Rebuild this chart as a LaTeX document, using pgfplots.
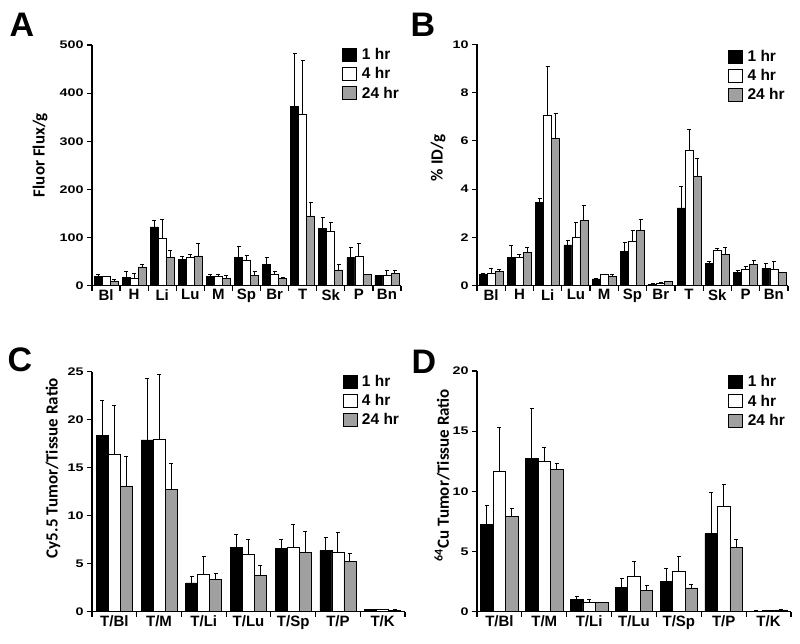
\documentclass[border=0pt]{standalone}
\usepackage{pgfplots}
\pgfplotsset{compat=1.18}
\usepackage{pgfplotstable}
\usepackage{fontspec}
\setmainfont{Liberation Sans}
\newfontfamily\calfont{Carlito}
\newfontfamily\tickfont[FakeStretch=1.3]{Liberation Sans}

\definecolor{barg}{RGB}{160,160,160}

% columns: x, 1 hr, err, 4 hr, err, 24 hr, err (err = upper bar length)
\pgfplotstableread{
x a ae b be c ce
0 20 4 20 0.01 10 3
1 18 11 15 11 39 5
2 122 13 98 40 59 14
3 55 6 59 6 62 25
4 20 3 19 4 15 6
5 58 23 53 9 21 9
6 44 14 24 6 15 2
7 373 110 357 110 145 27
8 119 23 112 20 33 12
9 58 22 61 26 23 1
10 21 1 21 10 25 6
}\tA
\pgfplotstableread{
x a ae b be c ce
0 0.48 0.02 0.51 0.21 0.58 0.10
1 1.16 0.52 1.16 0.15 1.38 0.21
2 3.44 0.16 7.04 2.03 6.10 1.04
3 1.69 0.17 2.00 0.62 2.70 0.61
4 0.28 0.01 0.47 0.01 0.40 0.07
5 1.41 0.37 1.84 0.46 2.30 0.45
6 0.07 0.01 0.11 0.01 0.17 0.01
7 3.22 0.87 5.60 0.85 4.53 0.73
8 0.93 0.09 1.45 0.10 1.31 0.26
9 0.54 0.11 0.68 0.11 0.88 0.16
10 0.72 0.22 0.69 0.32 0.55 0.01
}\tB
\pgfplotstableread{
x a ae b be c ce
0 18.4 3.65 16.4 5.1 13.1 3.05
1 17.9 6.4 17.95 6.8 12.7 2.75
2 3.0 0.7 3.9 1.9 3.37 0.63
3 6.67 1.33 5.94 1.56 3.75 1.08
4 6.6 0.9 6.74 2.32 6.18 2.22
5 6.35 1.39 6.18 2.05 5.2 0.84
6 0.2 0.05 0.2 0.05 0.15 0.05
}\tC
\pgfplotstableread{
x a ae b be c ce
0 7.26 1.6 11.63 3.67 7.95 0.64
1 12.74 4.16 12.47 1.16 11.83 0.47
2 1.0 0.25 0.75 0.3 0.75 0.05
3 2.0 0.74 2.96 1.24 1.8 0.36
4 2.5 1.1 3.32 1.25 1.97 0.3
5 6.48 3.41 8.73 1.8 5.32 0.68
6 0.05 0.02 0.1 0.02 0.15 0.03
}\tD

\pgfplotsset{
  panel/.style={
    scale only axis, anchor=south west,
    axis x line*=bottom, axis y line*=left,
    axis line style={line width=1.2pt, black},
    ymin=0, ybar=0pt,
    tick align=outside,
    major tick length=5pt,
    tick style={line width=1.2pt, black},
    xticklabel={\relax},
    extra x tick style={major tick length=0pt},
    /pgf/number format/assume math mode=true,
    yticklabel style={font=\tickfont\bfseries\fontsize{11}{11}\selectfont},
    xticklabel style={font=\bfseries\fontsize{15}{15}\selectfont},
    legend style={draw=none, fill=none, font=\bfseries\fontsize{15.5}{15.5}\selectfont,
      anchor=north west, row sep=2.5pt, inner sep=0pt},
    legend cell align=left,
    legend image code/.code={\draw[#1, line width=0.8pt] (0pt,-6.5pt) rectangle (14pt,6.5pt);
      \path[draw=none, fill=none] (0pt,0pt) rectangle (17pt,0.1pt);},
  },
  eb/.style={error bars/.cd, y dir=plus, y explicit,
    error bar style={line width=1pt, black},
    error mark options={rotate=90, mark size=2pt, line width=1pt, black}},
}
\newcommand\ylab{\calfont\bfseries\fontsize{17}{17}\selectfont}
\newcommand\plab{\bfseries\fontsize{34}{34}\selectfont}

\begin{document}
\begin{tikzpicture}
\path[use as bounding box] (0,0) rectangle (800pt,643pt);

% ---- A ----
\begin{axis}[panel, at={(92pt,357.3pt)},
  width=309pt, height=240.7pt, bar width=8pt,
  xmin=-0.5, xmax=10.5, ymax=500, ytick={0,100,...,500},
  xtick={-0.5,0.5,...,10.5},
  extra x ticks={0,...,10},
  extra x tick labels={Bl,H,Li,Lu,M,Sp,Br,T,Sk,P,Bn},
  legend style={at={(0.81,0.995)}}]
\addplot[fill=black, draw=black, line width=0.6pt, eb] table[x=x, y=a, y error=ae]{\tA};
\addplot[fill=white, draw=black, line width=0.6pt, eb] table[x=x, y=b, y error=be]{\tA};
\addplot[fill=barg, draw=black, line width=0.6pt, eb] table[x=x, y=c, y error=ce]{\tA};
\legend{1 hr, 4 hr, 24 hr}
\end{axis}

% ---- B ----
\begin{axis}[panel, at={(477pt,357.3pt)},
  width=311pt, height=241.4pt, bar width=8pt,
  xmin=-0.5, xmax=10.5, ymax=10, ytick={0,2,...,10},
  xtick={-0.5,0.5,...,10.5},
  extra x ticks={0,...,10},
  extra x tick labels={Bl,H,Li,Lu,M,Sp,Br,T,Sk,P,Bn},
  legend style={at={(0.807,0.985)}}]
\addplot[fill=black, draw=black, line width=0.6pt, eb] table[x=x, y=a, y error=ae]{\tB};
\addplot[fill=white, draw=black, line width=0.6pt, eb] table[x=x, y=b, y error=be]{\tB};
\addplot[fill=barg, draw=black, line width=0.6pt, eb] table[x=x, y=c, y error=ce]{\tB};
\legend{1 hr, 4 hr, 24 hr}
\end{axis}

% ---- C ----
\begin{axis}[panel, at={(92pt,31.3pt)},
  width=313pt, height=240pt, bar width=12pt,
  xmin=-0.5, xmax=6.5, ymax=25, ytick={0,5,...,25},
  xtick={-0.5,0.5,...,6.5},
  extra x ticks={0,...,6},
  extra x tick labels={T/Bl,T/M,T/Li,T/Lu,T/Sp,T/P,T/K},
  legend style={at={(0.80,0.995)}}]
\addplot[fill=black, draw=black, line width=0.6pt, eb] table[x=x, y=a, y error=ae]{\tC};
\addplot[fill=white, draw=black, line width=0.6pt, eb] table[x=x, y=b, y error=be]{\tC};
\addplot[fill=barg, draw=black, line width=0.6pt, eb] table[x=x, y=c, y error=ce]{\tC};
\legend{1 hr, 4 hr, 24 hr}
\end{axis}

% ---- D ----
\begin{axis}[panel, at={(477pt,31.3pt)},
  width=314pt, height=240.7pt, bar width=12.5pt,
  xmin=-0.5, xmax=6.5, ymax=20, ytick={0,5,...,20},
  xtick={-0.5,0.5,...,6.5},
  extra x ticks={0,...,6},
  extra x tick labels={T/Bl,T/M,T/Li,T/Lu,T/Sp,T/P,T/K},
  legend style={at={(0.80,0.99)}}]
\addplot[fill=black, draw=black, line width=0.6pt, eb] table[x=x, y=a, y error=ae]{\tD};
\addplot[fill=white, draw=black, line width=0.6pt, eb] table[x=x, y=b, y error=be]{\tD};
\addplot[fill=barg, draw=black, line width=0.6pt, eb] table[x=x, y=c, y error=ce]{\tD};
\legend{1 hr, 4 hr, 24 hr}
\end{axis}

% axis titles
\node[rotate=90, font=\ylab] at (40pt,488pt) {Fluor Flux/g};
\node[rotate=90, font=\ylab] at (438pt,485pt) {\% ID/g};
\node[rotate=90, font=\ylab] at (53pt,175pt) {Cy5.5 Tumor/Tissue Ratio};
\node[rotate=90, font=\ylab] at (442pt,168pt) {\textsuperscript{64}Cu Tumor/Tissue Ratio};

% panel letters
\node[font=\plab] at (22pt,618pt) {A};
\node[font=\plab] at (423pt,618pt) {B};
\node[font=\plab] at (20pt,283pt) {C};
\node[font=\plab] at (424pt,281pt) {D};
\end{tikzpicture}
\end{document}
